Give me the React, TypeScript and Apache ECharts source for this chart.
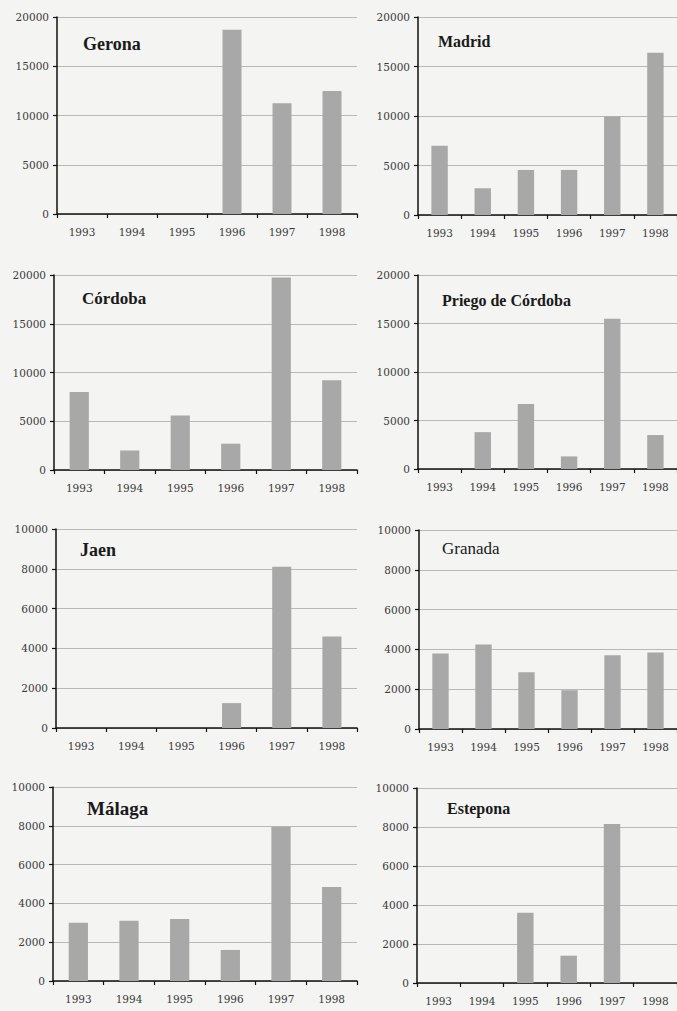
import React, { useEffect, useRef } from "react";
import * as echarts from "echarts";

const years = ["1993", "1994", "1995", "1996", "1997", "1998"];
const gerona = [null, null, null, 18700, 11250, 12500];
const madrid = [7000, 2700, 4550, 4550, 9950, 16400];
const cordoba = [8000, 2000, 5600, 2700, 19750, 9200];
const priego = [null, 3800, 6700, 1300, 15500, 3500];
const jaen = [null, null, null, 1250, 8100, 4600];
const granada = [3800, 4250, 2850, 1950, 3700, 3850];
const malaga = [3000, 3100, 3200, 1600, 7950, 4850];
const estepona = [null, null, 3600, 1400, 8150, null];

const panelNames = ["Gerona", "Madrid", "Córdoba", "Priego de Córdoba", "Jaen", "Granada", "Málaga", "Estepona"];
const panelData = [gerona, madrid, cordoba, priego, jaen, granada, malaga, estepona];
const panelMax = [20000, 20000, 20000, 20000, 10000, 10000, 10000, 10000];
const panelInterval = [5000, 5000, 5000, 5000, 2000, 2000, 2000, 2000];

// layout (pixels)
const grids = [
  { left: 57, top: 17, width: 300, height: 197 },
  { left: 418, top: 17, width: 259, height: 198 },
  { left: 54, top: 275, width: 303, height: 195 },
  { left: 418, top: 275, width: 259, height: 194 },
  { left: 56, top: 529, width: 301, height: 199 },
  { left: 419, top: 530, width: 258, height: 199 },
  { left: 53, top: 787, width: 304, height: 194 },
  { left: 417, top: 788, width: 260, height: 195 },
];
const titlePos = [
  { x: 83, y: 35, size: 18, weight: "bold" },
  { x: 438, y: 33, size: 16, weight: "bold" },
  { x: 82, y: 290, size: 17, weight: "bold" },
  { x: 442, y: 292, size: 16, weight: "bold" },
  { x: 80, y: 541, size: 18, weight: "bold" },
  { x: 442, y: 540, size: 17, weight: "normal" },
  { x: 87, y: 799, size: 19, weight: "bold" },
  { x: 447, y: 800, size: 16, weight: "bold" },
];

export default function App() {
  const ref = useRef<HTMLDivElement>(null);
  useEffect(() => {
    if (!ref.current) return;
    const chart = echarts.init(ref.current, undefined, { renderer: "svg" });
    const labelFont = { fontFamily: "DejaVu Serif", fontSize: 10.5, color: "#3a3a3a" };
    const option: any = {
      animation: false,
      backgroundColor: "#f4f4f2",
      title: panelNames.map((n, i) => ({
        text: n,
        left: titlePos[i].x,
        top: titlePos[i].y,
        padding: 0,
        textStyle: {
          fontFamily: "Liberation Serif",
          fontSize: titlePos[i].size,
          fontWeight: titlePos[i].weight,
          color: "#1a1a1a",
        },
      })),
      grid: grids.map((g) => ({ ...g, containLabel: false })),
      xAxis: grids.map((_, i) => ({
        type: "category",
        gridIndex: i,
        data: years,
        boundaryGap: true,
        axisLine: { show: true, lineStyle: { color: "#111", width: 1.5 } },
        axisTick: { show: true, length: 4, inside: false, lineStyle: { color: "#111", width: 1.2 } },
        axisLabel: { ...labelFont, margin: 12 },
        splitLine: { show: false },
      })),
      yAxis: grids.map((_, i) => ({
        type: "value",
        gridIndex: i,
        min: 0,
        max: panelMax[i],
        interval: panelInterval[i],
        axisLine: { show: true, lineStyle: { color: "#111", width: 1.5 } },
        axisTick: { show: true, length: 4, lineStyle: { color: "#111", width: 1.2 } },
        axisLabel: { ...labelFont, margin: 8, formatter: (v: number) => String(v) },
        splitLine: { show: true, lineStyle: { color: "#b8b8b8", width: 1 } },
      })),
      series: panelData.map((d, i) => ({
        type: "bar",
        xAxisIndex: i,
        yAxisIndex: i,
        data: d,
        barWidth: "38%",
        itemStyle: { color: "#a8a8a8" },
      })),
    };
    chart.setOption(option);
    return () => chart.dispose();
  }, []);
  return (
    <div
      ref={ref}
      style={{ position: "fixed", left: 0, top: 0, width: 677, height: 1011 }}
    />
  );
}
